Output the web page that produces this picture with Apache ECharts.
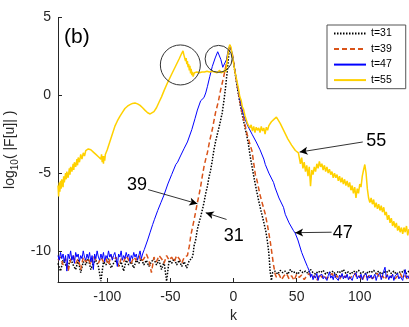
<!DOCTYPE html>
<html>
<head>
<meta charset="utf-8">
<script src="https://cdn.jsdelivr.net/npm/echarts@6/dist/echarts.min.js"></script>
<style>
  html, body { margin: 0; padding: 0; background: #fff; }
  #chart { width: 409px; height: 327px; }
</style>
</head>
<body>
<div id="chart"></div>
<script>
// spectra log10|F[u]| vs k
const t31 = [
  [-139,-10.8],[-137,-11.3],[-135,-10.6],[-133,-10.9],[-131,-11.0],[-129,-10.5],[-127,-10.9],[-125,-11.2],
  [-123,-10.6],[-121,-11.4],[-119,-10.7],[-117,-10.9],[-115,-10.5],[-113,-11.2],[-111,-10.8],[-109,-10.6],
  [-107,-11.0],[-105,-11.95],[-103,-10.7],[-101,-10.9],[-99,-10.5],[-97,-11.1],[-95,-10.8],[-93,-10.6],
  [-91,-11.0],[-89,-10.7],[-87,-11.3],[-85,-10.6],[-83,-10.9],[-81,-10.7],[-79,-11.1],[-77,-10.6],
  [-75,-10.8],[-73,-10.5],[-71,-10.9],[-69,-10.6],[-67,-11.0],[-65,-10.7],[-63,-10.5],[-61,-10.9],
  [-59,-10.6],[-57,-11.2],[-55,-10.7],[-53,-11.95],[-51,-10.6],[-49,-10.8],[-47,-10.5],[-45,-10.9],
  [-43,-10.6],[-41,-11.0],[-39,-10.7],[-37,-11.1],[-35,-10.6],[-33,-10.5],
  [-32,-10.2],[-31.3,-9.7],[-30,-9.3],[-28.6,-8.6],[-27,-8.1],[-26,-7.8],[-24.5,-7.3],[-23.4,-6.9],
  [-22,-6.3],[-20.7,-5.85],[-19.5,-5.3],[-18.1,-4.8],[-17,-4.3],[-15.5,-3.5],[-14,-2.9],[-12.8,-2.5],
  [-11,-1.9],[-9,-1.15],[-7.5,-0.3],[-6.3,0.5],[-5,1.5],[-4,2.4],[-3,3.2],[-2,3.1],[-1,2.6],
  [0.3,2.0],[2,1.0],[4.2,-0.1],[6,-0.9],[8.1,-1.7],[10,-2.4],[11.5,-3.0],[13.4,-4.0],[14.7,-4.6],
  [16.5,-5.4],[18.7,-6.3],[20,-6.8],[22,-7.5],[23.5,-8.0],[25.5,-8.7],[26.7,-9.3],[27.8,-10.0],
  [28.5,-10.7],[29,-11.3],
  [30,-11.9],[31,-11.4],[33,-11.3],[35,-11.5],[37,-11.25],[39,-11.4],[41,-11.3],[43,-11.5],[45,-11.2],
  [47,-11.4],[49,-11.35],[51,-11.5],[53,-11.25],[55,-11.4],[57,-11.3],[59,-11.45],[61,-11.2],[63,-11.4],
  [65,-11.5],[67,-11.3],[69,-11.4],[71,-11.25],[73,-11.5],[75,-11.35],[77,-11.4],[79,-11.3],[81,-11.55],
  [83,-11.3],[85,-11.4],[87,-11.2],[89,-11.45],[91,-11.35],[93,-11.5],[95,-11.3],[97,-11.4],[99,-11.25],
  [101,-11.45],[103,-11.35],[105,-11.5],[107,-11.3],[109,-11.4],[111,-11.25],[113,-11.45],[115,-11.3],
  [117,-11.5],[119,-11.35],[121,-11.4],[123,-11.25],[125,-11.45],[127,-11.3],[129,-11.5],[131,-11.35],
  [133,-11.4],[135,-11.25],[137,-11.45],[139,-11.3]
];

const t39 = [
  [-139,-10.6],[-137,-10.4],[-135,-10.9],[-133,-10.5],[-131,-11.3],[-129,-10.6],[-127,-10.3],[-125,-10.8],
  [-123,-10.5],[-121,-11.2],[-119,-10.4],[-117,-10.7],[-115,-10.5],[-113,-10.9],[-111,-10.3],[-109,-10.6],
  [-107,-10.8],[-105,-10.4],[-103,-10.7],[-101,-10.5],[-99,-10.9],[-97,-10.3],[-95,-10.6],[-93,-10.4],
  [-91,-11.0],[-89,-10.5],[-87,-10.7],[-85,-10.3],[-83,-10.6],[-81,-10.8],[-79,-10.4],[-77,-10.6],
  [-75,-10.3],[-73,-10.7],[-71,-10.5],[-69,-10.2],[-67,-10.6],[-65,-11.4],[-63,-10.4],[-61,-10.7],
  [-59,-10.3],[-57,-10.5],[-55,-10.8],[-53,-10.3],[-51,-10.6],[-49,-10.4],[-47,-10.7],[-45,-10.3],
  [-43,-10.5],[-41,-10.8],[-39,-10.4],[-37.5,-10.5],
  [-36.5,-10.3],[-35,-9.7],[-33.9,-9.05],[-32.5,-8.5],[-31.2,-8.0],[-30,-7.5],[-28.6,-6.9],[-27.3,-6.4],
  [-26,-5.85],[-24.7,-5.2],[-23.4,-4.6],[-22,-4.1],[-20.7,-3.7],[-18.8,-2.9],[-16.8,-2.2],[-14.2,-1.1],
  [-12,-0.4],[-10.2,0.35],[-8,1.1],[-6,1.9],[-4.5,2.6],[-3,3.2],[-2,3.1],[-1,2.7],[0.3,2.0],[2,1.1],
  [4.2,0.0],[6,-0.8],[8,-1.5],[10.8,-2.5],[12.5,-3.0],[14.7,-3.6],[17.3,-5.1],[18.7,-5.5],[21,-6.4],
  [23,-7.0],[25.2,-7.65],[27,-8.4],[29.1,-9.4],[30.5,-10.2],[31.7,-10.9],[33,-11.5],
  [34,-11.7],[36,-11.5],[38,-11.85],[40,-11.6],[42,-11.45],[44,-11.8],[46,-11.6],[48,-11.9],[50,-11.5],
  [52,-11.7],[54,-11.55],[56,-11.85],[58,-11.6],[60,-11.45],[62,-11.75],[64,-11.6],[66,-11.9],[68,-11.5],
  [70,-11.7],[72,-11.55],[74,-11.8],[76,-11.6],[78,-11.45],[80,-11.75],[82,-11.6],[84,-11.85],[86,-11.5],
  [88,-11.7],[90,-11.55],[92,-11.8],[94,-11.6],[96,-11.45],[98,-11.75],[100,-11.6],[102,-11.9],[104,-11.5],
  [106,-11.7],[108,-11.55],[110,-11.8],[112,-11.6],[114,-11.45],[116,-11.75],[118,-11.6],[120,-11.85],
  [122,-11.5],[124,-11.7],[126,-11.55],[128,-11.8],[130,-11.6],[132,-11.45],[134,-11.75],[136,-11.6],
  [138,-11.85],[139,-11.6]
];

const t47 = [
  [-139,-10.3],[-138,-10.6],[-137,-10.1],[-136,-10.5],[-135,-10.2],[-134,-10.7],[-133,-10.3],[-132,-11.3],
  [-131,-10.2],[-130,-10.5],[-129,-10.0],[-128,-10.6],[-127,-10.3],[-126,-10.8],[-125,-10.1],[-124,-10.4],
  [-123,-10.2],[-122,-10.7],[-121,-10.3],[-120,-10.5],[-119,-10.0],[-118,-10.4],[-117,-10.6],[-116,-10.2],
  [-115,-10.5],[-114,-10.1],[-113,-10.7],[-112,-10.3],[-111,-11.2],[-110,-10.2],[-109,-10.5],[-108,-10.0],
  [-107,-10.4],[-106,-10.6],[-105,-10.2],[-104,-10.5],[-103,-10.1],[-102,-10.7],[-101,-10.3],[-100,-10.5],
  [-99,-10.0],[-98,-10.4],[-97,-10.2],[-96,-10.6],[-95,-10.3],[-94,-10.1],[-93,-10.5],[-92,-11.0],
  [-91,-10.2],[-90,-10.4],[-89,-10.0],[-88,-10.6],[-87,-10.3],[-86,-10.5],[-85,-10.1],[-84,-10.4],
  [-83,-10.2],[-82,-10.7],[-81,-10.3],[-80,-10.5],[-79,-10.1],[-78,-10.4],[-77,-10.2],[-76,-10.6],
  [-75,-10.3],[-74,-10.0],[-73,-10.5],[-72,-10.2],[-71,-10.1],
  [-70.6,-9.9],[-68,-9.3],[-66,-8.8],[-64,-8.3],[-62.7,-8.0],[-60,-7.4],[-57.5,-6.9],[-55,-6.4],
  [-52,-5.7],[-49,-5.1],[-45.7,-4.45],[-44.3,-4.3],[-42,-3.9],[-39,-3.4],[-36.5,-3.0],[-33,-2.2],
  [-30.5,-1.5],[-28.6,-0.95],[-26,-0.35],[-23.4,-0.15],[-22,0.15],[-20.7,0.55],[-18.8,1.2],[-16.8,1.85],
  [-14.5,2.4],[-12.5,2.8],[-11.5,2.75],[-10,2.3],[-8.5,1.8],[-7,1.7],[-5.5,2.3],[-4.5,2.8],[-3,3.2],
  [-2,3.1],[-1,2.7],[0.3,2.0],[2,1.2],[4.2,0.1],[6.5,-0.8],[8.9,-1.5],[11.5,-2.0],[14.7,-2.5],[18,-3.0],
  [21,-3.5],[24,-4.1],[25.2,-4.45],[28,-5.0],[31.7,-5.6],[33,-5.95],[36,-6.6],[39.6,-7.2],[41,-7.65],
  [44,-8.2],[47.5,-8.7],[48.8,-8.85],[51,-9.3],[54,-10.1],[56.7,-10.65],[58.5,-11.0],[60.6,-11.4],
  [61,-11.7],[62,-11.5],[63,-11.85],[64,-11.6],[65,-11.75],[66,-11.45],[67,-11.9],[68,-11.6],[69,-11.7],
  [70,-11.5],[71,-11.8],[72,-11.65],[73,-11.55],[74,-11.9],[75,-11.6],[76,-11.35],[77,-11.75],[78,-11.6],
  [79,-11.85],[80,-11.5],[81,-11.7],[82,-11.6],[83,-11.9],[84,-11.55],[85,-11.7],[86,-11.45],[87,-11.8],
  [88,-11.6],[89,-11.75],[90,-11.5],[91,-11.85],[92,-11.65],[93,-11.55],[94,-11.9],[95,-11.6],[96,-11.7],
  [97,-11.4],[98,-11.8],[99,-11.6],[100,-11.75],[101,-11.5],[102,-11.85],[103,-11.6],[104,-11.7],
  [105,-11.45],[106,-11.9],[107,-11.6],[108,-11.75],[109,-11.55],[110,-11.8],[111,-11.65],[112,-11.5],
  [113,-11.9],[114,-11.6],[115,-11.7],[116,-11.45],[117,-11.85],[118,-11.6],[119,-11.3],[120,-11.05],
  [121,-11.7],[122,-11.55],[123,-11.85],[124,-11.6],[125,-11.75],[126,-11.5],[127,-11.9],[128,-11.6],
  [129,-11.7],[130,-11.45],[131,-11.8],[132,-11.65],[133,-11.55],[134,-11.9],[135,-11.5],[136,-11.2],
  [137,-11.75],[138,-11.6],[139,-11.8]
];

const t55 = [
  [-139,-5.8],[-138.5,-6.5],[-138,-5.6],[-137.5,-6.2],[-137,-5.5],[-136.5,-6.0],[-136,-5.4],[-135,-5.9],
  [-134.5,-5.2],[-134,-5.6],[-133,-5.0],[-132.5,-5.4],[-132,-4.9],[-131,-5.3],[-130,-4.7],[-129.5,-5.1],
  [-129,-4.6],[-128,-4.9],[-127,-4.4],[-126.5,-4.8],[-126,-4.3],[-125,-4.6],[-124,-4.1],[-123.5,-4.5],
  [-123,-4.0],[-122,-4.3],[-121,-3.8],[-120,-4.1],[-119,-3.7],[-118,-3.9],[-117,-3.55],[-116,-3.6],
  [-115,-3.45],[-114,-3.4],[-113,-3.5],[-112,-3.55],[-111,-3.65],[-110,-3.7],[-109,-3.8],[-108,-3.85],
  [-107,-3.95],[-106,-3.9],[-105,-4.1],[-104.5,-3.8],[-104,-4.3],[-103.5,-3.9],[-103,-4.4],[-102.5,-3.9],
  [-102,-4.2],[-101.5,-3.8],[-101,-3.9],[-100,-3.5],[-98,-3.0],[-96,-2.5],[-94,-2.0],[-92,-1.65],
  [-90,-1.35],[-88,-1.1],[-86,-0.85],[-84,-0.7],[-82,-0.6],[-80,-0.52],[-78,-0.5],[-76,-0.55],
  [-74,-0.65],[-72,-0.8],[-70,-0.97],[-68,-1.12],[-66,-1.2],[-64.5,-1.18],[-63,-1.05],[-61,-0.8],
  [-59,-0.45],[-57,-0.1],[-55,0.3],[-52,0.85],[-49,1.35],[-46,1.85],[-43,2.35],[-41,2.7],[-40,2.85],
  [-39.3,2.6],[-38.7,2.5],[-38,2.2],[-37.5,2.4],[-37,2.0],[-36.5,2.2],[-36,1.8],[-35.5,2.0],[-35,1.6],
  [-34.5,1.9],[-34,1.4],[-33.5,1.7],[-33,1.3],[-32.5,1.5],[-32,1.2],[-31,1.45],[-30,1.35],[-29,1.5],
  [-28,1.4],[-27,1.45],[-26,1.35],[-25,1.5],[-24,1.4],[-23,1.5],[-22,1.42],[-21,1.55],[-20,1.45],
  [-19,1.5],[-18,1.4],[-17,1.55],[-16,1.45],[-15,1.5],[-14,1.6],[-13,1.45],[-12,1.5],[-11,1.6],
  [-10,1.45],[-9,1.55],[-8,1.5],[-7,1.65],[-6,1.5],[-5,2.3],[-4,2.9],[-3,3.25],[-2,3.1],[-1,2.6],
  [0,2.1],[1,1.6],[2,1.2],[3,0.8],[4,0.4],[5,-0.1],[6,-0.3],[7,-0.75],[8,-0.9],[9,-1.3],[10,-1.4],
  [11,-1.8],[12,-1.7],[13,-2.1],[14,-1.9],[15,-2.3],[16,-2.0],[17,-2.4],[18,-2.05],[19,-2.25],[20,-2.1],
  [21,-2.4],[22,-2.0],[23,-2.3],[24,-2.1],[25,-2.5],[26,-2.05],[27,-2.25],[28,-1.95],[29,-1.85],
  [30,-1.7],[32,-1.55],[34,-1.4],[35,-1.45],[37,-1.8],[40,-2.3],[43,-2.8],[46,-3.2],[49,-3.55],
  [51.4,-3.7],[53,-4.4],[54,-4.0],[55,-4.7],[56,-4.3],[57,-4.9],[58,-4.5],[59,-5.2],[60,-4.6],
  [61,-5.85],[62,-4.8],[63,-5.1],[64,-4.6],[65,-4.9],[66,-4.4],[67,-4.7],[68,-4.25],[69,-4.6],
  [70,-4.4],[71,-4.8],[72,-4.5],[73,-4.9],[74,-4.6],[75,-5.0],[76,-4.75],[77,-5.1],[78,-4.9],[79,-5.3],
  [80,-5.0],[81,-5.3],[82,-5.1],[83,-5.5],[84,-5.2],[85,-5.6],[86,-5.3],[87,-5.7],[88,-5.4],[89,-5.8],
  [90,-5.5],[91,-5.9],[92,-5.6],[93,-6.1],[94,-5.8],[95,-6.3],[96,-5.9],[97,-6.6],[98,-6.0],[99,-6.3],
  [100,-5.7],[101,-5.9],[102,-5.2],[103,-4.8],[104,-4.45],[105,-5.0],[106,-6.0],[107,-6.6],[108,-6.9],
  [109,-6.6],[110,-7.0],[111,-6.7],[112,-7.2],[113,-6.9],[114,-7.3],[115,-7.0],[116,-7.4],[117,-7.1],
  [118,-7.5],[119,-7.2],[120,-7.7],[121,-7.5],[122,-8.0],[123,-7.7],[124,-8.2],[125,-7.9],[126,-8.4],
  [127,-8.1],[128,-8.5],[129,-8.2],[130,-8.7],[131,-8.4],[132,-8.8],[133,-8.5],[134,-8.9],[135,-8.5],
  [136,-8.8],[137,-8.4],[138,-9.0],[139,-8.6]
];

const seriesNames = ['t=31', 't=39', 't=47', 't=55'];
const xTicks = [-100, -50, 0, 50, 100];
const yTicks = [-10, -5, 0, 5];

// annotations in data coordinates: arrow tail, arrow tip, label position
const arrows = [
  { label: '55', from: [102.4, -3.0], to: [52.4, -3.65], text: [113.1, -2.92] },
  { label: '47', from: [77.7, -8.8], to: [48.8, -8.83], text: [86.6, -8.85] },
  { label: '39', from: [-67.7, -6.06], to: [-28.6, -6.97], text: [-76.4, -5.78] },
  { label: '31', from: [-5.5, -7.98], to: [-22, -7.55], text: [0.2, -9.05] }
];
const circles = [
  { at: [-42.1, 1.95], size: 40 },
  { at: [-11.8, 2.34], size: 27 }
];

const FONT = 'Liberation Sans, Arial, sans-serif';
const AXIS = '#262626';

const chart = echarts.init(document.getElementById('chart'), null, { renderer: 'canvas' });

const markItems = circles.map(c => ({
  coord: c.at,
  symbol: 'circle',
  symbolSize: c.size,
  itemStyle: { color: 'rgba(0,0,0,0)', borderColor: '#333', borderWidth: 1 },
  label: { show: false }
})).concat(arrows.map(a => ({
  coord: a.text,
  value: a.label,
  symbol: 'circle',
  symbolSize: 1,
  itemStyle: { color: 'rgba(0,0,0,0)' },
  label: { show: true, position: 'inside', formatter: a.label, color: '#000', fontSize: 18, fontFamily: FONT }
})));

const option = {
  animation: false,
  backgroundColor: '#fff',
  grid: { left: 58, right: 0, top: 17.5, bottom: 45, containLabel: false, outerBoundsMode: 'none' },
  legend: {
    data: seriesNames,
    orient: 'vertical',
    left: 327,
    top: 25,
    itemWidth: 32,
    itemHeight: 14,
    itemGap: 4.3,
    padding: [3, 14, 3, 6],
    borderColor: '#555',
    borderWidth: 1,
    backgroundColor: '#fff',
    itemStyle: { opacity: 0 },
    textStyle: { fontSize: 10.5, color: '#000', fontFamily: FONT }
  },
  xAxis: {
    type: 'value',
    min: -139,
    max: 139,
    name: 'k',
    nameLocation: 'middle',
    nameGap: 26,
    nameTextStyle: { fontSize: 14, color: AXIS, fontFamily: FONT },
    axisLine: { onZero: false, lineStyle: { color: AXIS, width: 1 } },
    axisTick: { inside: true, length: 4, customValues: xTicks, lineStyle: { color: AXIS } },
    axisLabel: { customValues: xTicks, fontSize: 14, color: AXIS, fontFamily: FONT, margin: 8 },
    splitLine: { show: false }
  },
  yAxis: {
    type: 'value',
    min: -12,
    max: 5,
    name: '{a|log}{s|10}{a|( |F[u]| )}',
    nameLocation: 'middle',
    nameGap: 37,
    nameRotate: 90,
    nameTextStyle: {
      color: AXIS,
      fontFamily: FONT,
      rich: {
        a: { fontSize: 14, color: AXIS, fontFamily: FONT, lineHeight: 20 },
        s: { fontSize: 10, color: AXIS, fontFamily: FONT, lineHeight: 20, verticalAlign: 'bottom' }
      }
    },
    axisLine: { show: true, onZero: false, lineStyle: { color: AXIS, width: 1 } },
    axisTick: { show: true, inside: true, length: 4, customValues: yTicks, lineStyle: { color: AXIS } },
    axisLabel: { customValues: yTicks, fontSize: 14, color: AXIS, fontFamily: FONT, margin: 7 },
    splitLine: { show: false }
  },
  graphic: [
    { type: 'text', left: 64, top: 27, style: { text: '(b)', fontSize: 21, fill: '#000', fontFamily: FONT } }
  ],
  series: [
    {
      name: 't=31', type: 'line', data: t31, symbol: 'none', showSymbol: false,
      lineStyle: { color: '#000', width: 1.5, type: [1.5, 1.5] }, itemStyle: { color: '#000' }
    },
    {
      name: 't=39', type: 'line', data: t39, symbol: 'none', showSymbol: false,
      lineStyle: { color: '#D95319', width: 1.5, type: [5, 3] }, itemStyle: { color: '#D95319' }
    },
    {
      name: 't=47', type: 'line', data: t47, symbol: 'none', showSymbol: false,
      lineStyle: { color: '#0000FF', width: 1 }, itemStyle: { color: '#0000FF' }
    },
    {
      name: 't=55', type: 'line', data: t55, symbol: 'none', showSymbol: false,
      lineStyle: { color: '#FFD100', width: 1.5 }, itemStyle: { color: '#FFD100' }
    },
    {
      name: 'notes', type: 'line', data: [], symbol: 'none', silent: true,
      markLine: {
        silent: true,
        symbol: ['none', 'arrow'],
        symbolSize: [6, 8],
        lineStyle: { color: '#000', width: 0.8, type: 'solid' },
        label: { show: false },
        data: arrows.map(a => [{ coord: a.from }, { coord: a.to }])
      },
      markPoint: { silent: true, data: markItems }
    }
  ]
};

chart.setOption(option);
</script>
</body>
</html>
